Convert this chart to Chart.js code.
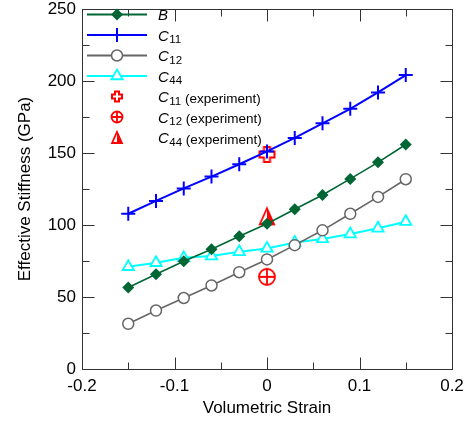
<!DOCTYPE html>
<html>
<head>
<meta charset="utf-8">
<script src="https://cdn.jsdelivr.net/npm/chart.js@4/dist/chart.umd.min.js"></script>
<style>
  html, body { margin: 0; padding: 0; background: #fff; }
  #wrap { width: 472px; height: 427px; }
</style>
</head>
<body>
<div id="wrap"><canvas id="stiffChart" width="472" height="427"></canvas></div>
<script>
// values
const strain = [-0.15, -0.12, -0.09, -0.06, -0.03, 0, 0.03, 0.06, 0.09, 0.12, 0.15];
const bulk = [56.6, 65.8, 74.8, 83.2, 92.2, 100.9, 110.9, 120.8, 132.0, 143.5, 155.9];
const c11 = [107.8, 116.7, 125.4, 133.6, 142.2, 151.1, 160.5, 170.6, 180.7, 192.1, 204.1];
const c12 = [31.4, 40.6, 49.3, 58.0, 67.2, 76.1, 86.0, 96.3, 107.8, 119.5, 131.8];
const c44 = [71.0, 73.8, 77.2, 78.4, 81.4, 83.7, 87.8, 90.3, 93.7, 97.7, 102.3];

const expStrain = [0];
const c11Exp = [149];
const c12Exp = [64];
const c44Exp = [106];

const FONT = "'Liberation Sans', Arial, Helvetica, sans-serif";
const RED = '#ff0000';

function pts(xs, ys) {
    return xs.map((v, i) => ({ x: v, y: ys[i] }));
}

// marker shapes for the experiment points
function plusOutline(ctx, x, y, s) {
    const h = s / 2, w = s * 0.2;
    ctx.beginPath();
    ctx.moveTo(x - w, y - h);
    ctx.lineTo(x + w, y - h);
    ctx.lineTo(x + w, y - w);
    ctx.lineTo(x + h, y - w);
    ctx.lineTo(x + h, y + w);
    ctx.lineTo(x + w, y + w);
    ctx.lineTo(x + w, y + h);
    ctx.lineTo(x - w, y + h);
    ctx.lineTo(x - w, y + w);
    ctx.lineTo(x - h, y + w);
    ctx.lineTo(x - h, y - w);
    ctx.lineTo(x - w, y - w);
    ctx.closePath();
    ctx.fillStyle = '#fff';
    ctx.fill();
    ctx.strokeStyle = RED;
    ctx.lineWidth = 2;
    ctx.stroke();
}

function circlePlus(ctx, x, y, s) {
    const r = s / 2;
    ctx.strokeStyle = RED;
    ctx.lineWidth = 1.8;
    ctx.beginPath();
    ctx.arc(x, y, r, 0, Math.PI * 2);
    ctx.stroke();
    ctx.beginPath();
    ctx.moveTo(x - r, y); ctx.lineTo(x + r, y);
    ctx.moveTo(x, y - r); ctx.lineTo(x, y + r);
    ctx.stroke();
}

function halfTriangle(ctx, x, y, s) {
    const w = s * 0.45, h = s / 2;
    ctx.beginPath();
    ctx.moveTo(x, y - h);
    ctx.lineTo(x + w, y + h);
    ctx.lineTo(x, y + h);
    ctx.closePath();
    ctx.fillStyle = RED;
    ctx.fill();
    ctx.beginPath();
    ctx.moveTo(x, y - h);
    ctx.lineTo(x + w, y + h);
    ctx.lineTo(x - w, y + h);
    ctx.closePath();
    ctx.strokeStyle = RED;
    ctx.lineWidth = 1.8;
    ctx.stroke();
}

function markerCanvas(fn, s) {
    const c = document.createElement('canvas');
    c.width = s + 4;
    c.height = s + 4;
    fn(c.getContext('2d'), c.width / 2, c.height / 2, s);
    return c;
}

const plusImg = markerCanvas(plusOutline, 15);
const circPlusImg = markerCanvas(circlePlus, 16);
const triImg = markerCanvas(halfTriangle, 16);

// legend entries: label parts [main, subscript, rest]
const legendItems = [
    { txt: ['B', '', ''], color: '#006633', line: true, mark: 'diamond' },
    { txt: ['C', '11', ''], color: '#0000ff', line: true, mark: 'cross' },
    { txt: ['C', '12', ''], color: '#666666', line: true, mark: 'circle' },
    { txt: ['C', '44', ''], color: '#00ffff', line: true, mark: 'triangle' },
    { txt: ['C', '11', ' (experiment)'], line: false, mark: 'plusExp' },
    { txt: ['C', '12', ' (experiment)'], line: false, mark: 'circExp' },
    { txt: ['C', '44', ' (experiment)'], line: false, mark: 'triExp' }
];

function legendMarker(ctx, it, x, y) {
    ctx.save();
    ctx.strokeStyle = it.color;
    ctx.fillStyle = it.color;
    if (it.mark === 'diamond') {
        const r = 6;
        ctx.beginPath();
        ctx.moveTo(x, y - r); ctx.lineTo(x + r, y); ctx.lineTo(x, y + r); ctx.lineTo(x - r, y);
        ctx.closePath();
        ctx.fill();
    } else if (it.mark === 'cross') {
        ctx.lineWidth = 2;
        ctx.beginPath();
        ctx.moveTo(x - 7, y); ctx.lineTo(x + 7, y);
        ctx.moveTo(x, y - 7); ctx.lineTo(x, y + 7);
        ctx.stroke();
    } else if (it.mark === 'circle') {
        ctx.lineWidth = 1.5;
        ctx.fillStyle = '#fff';
        ctx.beginPath();
        ctx.arc(x, y, 5.5, 0, Math.PI * 2);
        ctx.fill();
        ctx.stroke();
    } else if (it.mark === 'triangle') {
        const r = 6.5;
        ctx.lineWidth = 1.8;
        ctx.fillStyle = '#fff';
        ctx.beginPath();
        ctx.moveTo(x, y - r);
        ctx.lineTo(x + r * 0.866, y + r / 2);
        ctx.lineTo(x - r * 0.866, y + r / 2);
        ctx.closePath();
        ctx.fill();
        ctx.stroke();
    } else if (it.mark === 'plusExp') {
        plusOutline(ctx, x, y, 10);
    } else if (it.mark === 'circExp') {
        circlePlus(ctx, x, y, 11);
    } else if (it.mark === 'triExp') {
        halfTriangle(ctx, x, y, 11);
    }
    ctx.restore();
}

const legendPlugin = {
    id: 'sketchLegend',
    afterDraw(chart) {
        const ctx = chart.ctx;
        ctx.save();
        legendItems.forEach((it, i) => {
            const y = 14.5 + i * 20.5;
            if (it.line) {
                ctx.strokeStyle = it.color;
                ctx.lineWidth = 2;
                ctx.beginPath();
                ctx.moveTo(87, y);
                ctx.lineTo(147, y);
                ctx.stroke();
            }
            legendMarker(ctx, it, 117, y);
            let tx = 158;
            ctx.fillStyle = '#000';
            ctx.textAlign = 'left';
            ctx.textBaseline = 'alphabetic';
            ctx.font = 'italic 15px ' + FONT;
            ctx.fillText(it.txt[0], tx, y + 5.5);
            tx += ctx.measureText(it.txt[0]).width + 0.5;
            if (it.txt[1]) {
                ctx.font = '11.5px ' + FONT;
                ctx.fillText(it.txt[1], tx, y + 8);
                tx += ctx.measureText(it.txt[1]).width;
            }
            if (it.txt[2]) {
                ctx.font = '13.5px ' + FONT;
                ctx.fillText(it.txt[2], tx, y + 6);
            }
        });
        ctx.restore();
    }
};

// box round the plot with inward ticks on all four sides
const framePlugin = {
    id: 'frameTicks',
    beforeDatasetsDraw(chart) {
        const { ctx, chartArea: a, scales: { x, y } } = chart;
        const L = Math.round(a.left) + 0.5, R = Math.round(a.right) + 0.5;
        const T = Math.round(a.top) + 0.5, B = Math.round(a.bottom) + 0.5;
        ctx.save();
        ctx.strokeStyle = '#333';
        ctx.lineWidth = 1;
        ctx.strokeRect(L, T, R - L, B - T);
        const major = 12, minor = 7;
        const xt = x.ticks.map(t => t.value);
        const yt = y.ticks.map(t => t.value);
        ctx.beginPath();
        xt.forEach((v, i) => {
            const px = Math.round(x.getPixelForValue(v)) + 0.5;
            ctx.moveTo(px, B); ctx.lineTo(px, B - major);
            ctx.moveTo(px, T); ctx.lineTo(px, T + major);
            if (i < xt.length - 1) {
                const mx = Math.round(x.getPixelForValue((v + xt[i + 1]) / 2)) + 0.5;
                ctx.moveTo(mx, B); ctx.lineTo(mx, B - minor);
                ctx.moveTo(mx, T); ctx.lineTo(mx, T + minor);
            }
        });
        yt.forEach((v, i) => {
            const py = Math.round(y.getPixelForValue(v)) + 0.5;
            ctx.moveTo(L, py); ctx.lineTo(L + major, py);
            ctx.moveTo(R, py); ctx.lineTo(R - major, py);
            if (i < yt.length - 1) {
                const my = Math.round(y.getPixelForValue((v + yt[i + 1]) / 2)) + 0.5;
                ctx.moveTo(L, my); ctx.lineTo(L + minor, my);
                ctx.moveTo(R, my); ctx.lineTo(R - minor, my);
            }
        });
        ctx.stroke();
        ctx.restore();
    }
};

Chart.defaults.font.family = FONT;
Chart.defaults.color = '#000';

new Chart(document.getElementById('stiffChart'), {
    type: 'line',
    data: {
        datasets: [
            {
                label: 'B',
                data: pts(strain, bulk),
                borderColor: '#006633',
                backgroundColor: '#006633',
                borderWidth: 1.6,
                pointStyle: 'rectRot',
                pointRadius: 6,
                pointBorderWidth: 0
            },
            {
                label: 'C11',
                data: pts(strain, c11),
                borderColor: '#0000ff',
                backgroundColor: '#0000ff',
                borderWidth: 2,
                pointStyle: 'cross',
                pointRadius: 7,
                pointBorderWidth: 2
            },
            {
                label: 'C12',
                data: pts(strain, c12),
                borderColor: '#666666',
                backgroundColor: '#ffffff',
                borderWidth: 1.6,
                pointStyle: 'circle',
                pointRadius: 5.5,
                pointBorderWidth: 1.5
            },
            {
                label: 'C44',
                data: pts(strain, c44),
                borderColor: '#00ffff',
                backgroundColor: '#ffffff',
                borderWidth: 2,
                pointStyle: 'triangle',
                pointRadius: 6.5,
                pointBorderWidth: 1.8
            },
            {
                label: 'C11 (experiment)',
                data: pts(expStrain, c11Exp),
                showLine: false,
                pointStyle: plusImg
            },
            {
                label: 'C12 (experiment)',
                data: pts(expStrain, c12Exp),
                showLine: false,
                pointStyle: circPlusImg
            },
            {
                label: 'C44 (experiment)',
                data: pts(expStrain, c44Exp),
                showLine: false,
                pointStyle: triImg
            }
        ]
    },
    options: {
        responsive: false,
        animation: false,
        layout: { padding: { top: 5, right: 20, left: 0, bottom: 0 } },
        plugins: { legend: { display: false }, tooltip: { enabled: false } },
        elements: { line: { tension: 0 } },
        scales: {
            x: {
                type: 'linear',
                min: -0.2,
                max: 0.2,
                grid: { display: false, drawTicks: false },
                border: { display: false },
                ticks: {
                    stepSize: 0.1,
                    padding: 7,
                    font: { size: 17 },
                    callback: v => String(Math.round(v * 10) / 10)
                },
                title: {
                    display: true,
                    text: 'Volumetric Strain',
                    font: { size: 17 },
                    padding: { top: 0, bottom: 8 }
                },
                afterFit: s => {
                    s.height = 58;
                    s.paddingLeft = 0;
                    s.paddingRight = 0;
                }
            },
            y: {
                min: 0,
                max: 250,
                grid: { display: false, drawTicks: false },
                border: { display: false },
                ticks: { stepSize: 50, padding: 6, font: { size: 17 } },
                title: {
                    display: true,
                    text: 'Effective Stiffness (GPa)',
                    font: { size: 17 },
                    padding: { top: 15, bottom: 0 }
                },
                afterFit: s => {
                    s.width = 82;
                    s.paddingTop = 0;
                    s.paddingBottom = 0;
                }
            }
        }
    },
    plugins: [framePlugin, legendPlugin]
});
</script>
</body>
</html>
